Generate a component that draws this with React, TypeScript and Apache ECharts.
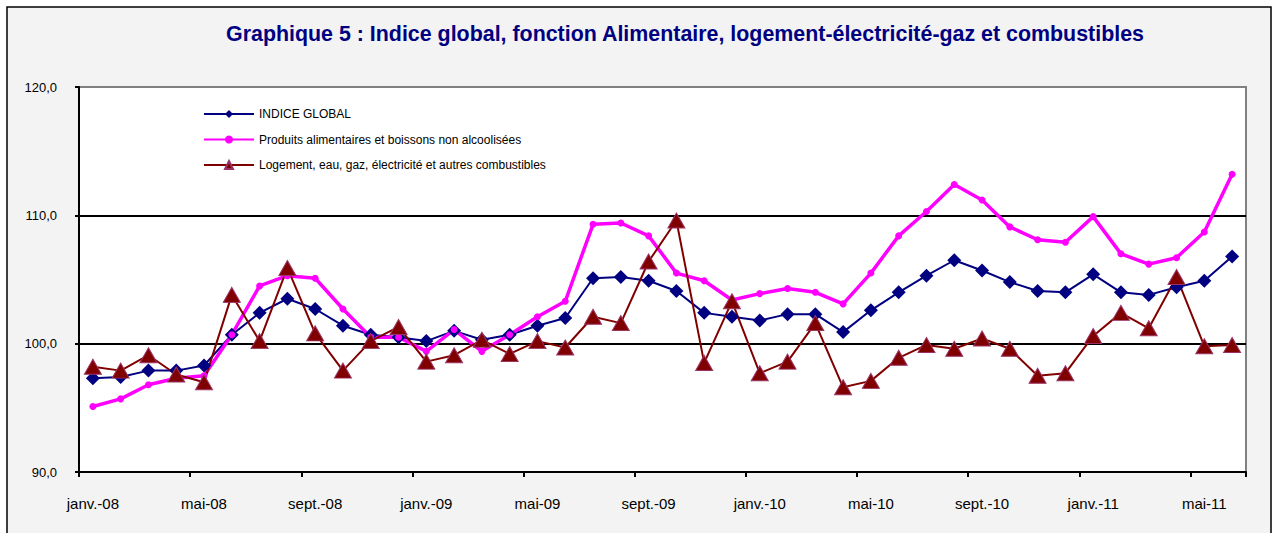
import React, { useEffect, useRef } from "react";
import * as echarts from "echarts";

const categories = [
  "janv.-08", "févr.-08", "mars-08", "avr.-08", "mai-08", "juin-08", "juil.-08", "août-08", "sept.-08", "oct.-08", "nov.-08", "déc.-08",
  "janv.-09", "févr.-09", "mars-09", "avr.-09", "mai-09", "juin-09", "juil.-09", "août-09", "sept.-09", "oct.-09", "nov.-09", "déc.-09",
  "janv.-10", "févr.-10", "mars-10", "avr.-10", "mai-10", "juin-10", "juil.-10", "août-10", "sept.-10", "oct.-10", "nov.-10", "déc.-10",
  "janv.-11", "févr.-11", "mars-11", "avr.-11", "mai-11", "juin-11",
];

const indiceGlobal = [
  97.3, 97.4, 97.9, 97.9, 98.3, 100.7, 102.4, 103.5, 102.7, 101.4, 100.7, 100.5,
  100.2, 101.0, 100.3, 100.7, 101.4, 102.0, 105.1, 105.2, 104.9, 104.1, 102.4, 102.1,
  101.8, 102.3, 102.3, 100.9, 102.6, 104.0, 105.3, 106.5, 105.7, 104.8, 104.1, 104.0,
  105.4, 104.0, 103.8, 104.4, 104.9, 106.8,
];

const alimentaires = [
  95.1, 95.7, 96.8, 97.3, 97.5, 100.7, 104.5, 105.3, 105.1, 102.7, 100.5, 100.5,
  99.4, 101.1, 99.4, 100.7, 102.1, 103.3, 109.3, 109.4, 108.4, 105.5, 104.9, 103.4,
  103.9, 104.3, 104.0, 103.1, 105.5, 108.4, 110.3, 112.4, 111.2, 109.1, 108.1, 107.9,
  109.9, 107.0, 106.2, 106.7, 108.7, 113.2,
];

const logement = [
  98.2, 97.9, 99.1, 97.6, 97.0, 103.8, 100.2, 105.9, 100.8, 97.9, 100.2, 101.3,
  98.6, 99.1, 100.3, 99.2, 100.2, 99.7, 102.1, 101.6, 106.4, 109.6, 98.5, 103.3,
  97.7, 98.6, 101.6, 96.6, 97.1, 98.9, 99.9, 99.6, 100.4, 99.6, 97.5, 97.7,
  100.6, 102.4, 101.2, 105.2, 99.8, 99.9,
];

const seriesNames = [
  "INDICE GLOBAL",
  "Produits alimentaires et boissons non alcoolisées",
  "Logement, eau, gaz, électricité et autres combustibles",
];

const titleText = "Graphique 5 : Indice global, fonction Alimentaire, logement-électricité-gaz et combustibles";

const yMin = 90;
const yMax = 120;
const yInterval = 10;

export default function App() {
  const ref = useRef<HTMLDivElement>(null);

  useEffect(() => {
    if (!ref.current) return;
    const chart = echarts.init(ref.current, null, { renderer: "svg" });
    const font = "'Liberation Sans', Arial, sans-serif";
    const titleFont = "bold 22px 'Liberation Sans', Arial, sans-serif";
    let titleScale = 1;
    try {
      const ctx = document.createElement("canvas").getContext("2d");
      if (ctx) {
        ctx.font = titleFont;
        const w = ctx.measureText(titleText).width;
        if (w > 0) titleScale = 919 / w;
      }
    } catch (e) {
      titleScale = 0.9;
    }
    chart.setOption({
      animation: false,
      backgroundColor: "#ffffff",
      graphic: [
        {
          type: "rect",
          z: -10,
          shape: { x: 7, y: 7, width: 1264, height: 560 },
          style: { fill: "#f3f3f3", stroke: "#000000", lineWidth: 1.5 },
        },
        {
          type: "text",
          x: 685,
          y: 33,
          scaleX: titleScale,
          style: {
            text: titleText,
            fill: "#000080",
            font: titleFont,
            textAlign: "center",
            textVerticalAlign: "middle",
          },
        },
      ],
      grid: {
        left: 79,
        right: 28,
        top: 87,
        bottom: 61,
        show: true,
        backgroundColor: "#ffffff",
        borderColor: "#808080",
        borderWidth: 2,
      },
      legend: {
        orient: "vertical",
        left: 198,
        top: 103,
        itemWidth: 50,
        itemHeight: 10,
        itemGap: 13.5,
        data: seriesNames,
        textStyle: { fontSize: 12, color: "#000", fontFamily: font },
      },
      xAxis: {
        type: "category",
        data: categories,
        boundaryGap: true,
        axisLine: { show: true, lineStyle: { color: "#000", width: 2 } },
        axisTick: { show: true, interval: 3, length: 5, lineStyle: { color: "#000", width: 2 } },
        axisLabel: { interval: 3, fontSize: 15, color: "#000", margin: 24, fontFamily: font },
        splitLine: { show: false },
      },
      yAxis: {
        type: "value",
        min: yMin,
        max: yMax,
        interval: yInterval,
        axisLine: { show: true, lineStyle: { color: "#000", width: 2 } },
        axisTick: { show: true, length: 4, lineStyle: { color: "#000", width: 2 } },
        axisLabel: {
          fontSize: 13,
          color: "#000",
          margin: 22,
          fontFamily: font,
          formatter: (v: number) => v.toFixed(1).replace(".", ","),
        },
        splitLine: {
          show: true,
          lineStyle: { color: ["#000", "#000", "#000", "#808080"], width: 2 },
        },
      },
      series: [
        {
          name: seriesNames[0],
          type: "line",
          data: indiceGlobal,
          symbol: "diamond",
          symbolSize: 14,
          lineStyle: { color: "#000080", width: 2 },
          itemStyle: { color: "#000080" },
        },
        {
          name: seriesNames[1],
          type: "line",
          data: alimentaires,
          symbol: "circle",
          symbolSize: 7,
          lineStyle: { color: "#ff00ff", width: 3.5 },
          itemStyle: { color: "#ff00ff" },
        },
        {
          name: seriesNames[2],
          type: "line",
          data: logement,
          symbol: "triangle",
          symbolSize: [17, 15],
          lineStyle: { color: "#800000", width: 2 },
          itemStyle: { color: "#800000", borderColor: "#993366", borderWidth: 1 },
        },
      ],
    });
    return () => chart.dispose();
  }, []);

  return (
    <div
      ref={ref}
      style={{ position: "fixed", left: 0, top: 0, width: 1274, height: 533 }}
    />
  );
}
